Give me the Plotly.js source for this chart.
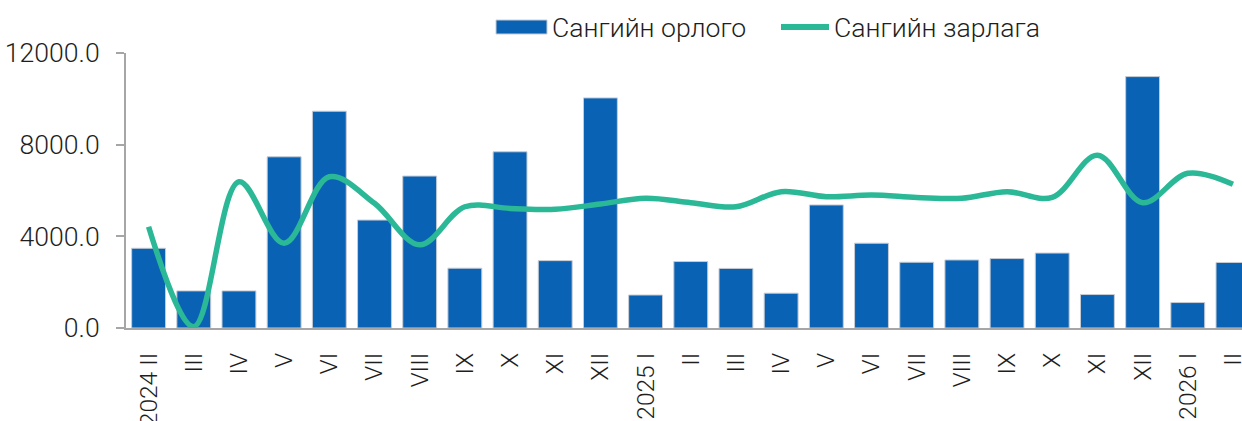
<!DOCTYPE html>
<html>
<head>
<meta charset="utf-8">
<script src="https://cdn.plot.ly/plotly-3.0.1.min.js"></script>
<style>html,body{margin:0;padding:0;background:#fff;}#chart{width:1242px;height:421px;}</style>
</head>
<body>
<div id="chart"></div>
<script>
const categories = ["2024 II","III","IV","V","VI","VII","VIII","IX","X","XI","XII",
  "2025 I","II","III","IV","V","VI","VII","VIII","IX","X","XI","XII","2026 I","II"];
const revenue = [3480,1620,1620,7470,9460,4710,6630,2610,7690,2940,10040,
  1440,2900,2600,1520,5370,3700,2870,2970,3030,3270,1460,10970,1110,2860];
const expenditure = [4420,60,6380,3700,6600,5440,3630,5290,5220,5180,5410,
  5660,5470,5290,5950,5730,5800,5700,5660,5950,5700,7540,5470,6750,6270];
const yTicks = [0,4000,8000,12000];
const yTickText = ["0.0","4000.0","8000.0","12000.0"];
const seriesNames = ["Сангийн орлого","Сангийн зарлага"];

const barColor = "#0a62b5";
const lineColor = "#2bb897";
const idx = categories.map((_, i) => i);
const baseFont = {family: "Roboto, sans-serif", color: "#1e1e1e", weight: 300};
const yFont = Object.assign({}, baseFont, {size: 26.6});
const xFont = Object.assign({}, baseFont, {size: 24.5});
const legFont = Object.assign({}, baseFont, {size: 26.6});

const traces = [
  {type: "bar", x: idx, y: revenue, name: seriesNames[0], showlegend: false,
   marker: {color: barColor, line: {color: "#c8ccd2", width: 1}}},
  {type: "scatter", mode: "lines", x: idx, y: expenditure, name: seriesNames[1], showlegend: false,
   line: {color: lineColor, width: 5.5, shape: "spline", smoothing: 1}}
];

// legend drawn in paper coordinates derived from pixel positions
const L = 126, PW = 1116, B = 328, PH = 275;
const px = v => (v - L) / PW;
const py = v => (B - v) / PH;

const layout = {
  width: 1242, height: 421,
  margin: {l: 126, r: 0, t: 53, b: 93},
  paper_bgcolor: "#fff", plot_bgcolor: "#fff",
  font: baseFont,
  bargap: 0.25,
  showlegend: false,
  shapes: [
    {type: "rect", xref: "paper", yref: "paper", x0: px(496), x1: px(547), y0: py(34), y1: py(20),
     fillcolor: barColor, line: {color: "#c8ccd2", width: 1}},
    {type: "line", xref: "paper", yref: "paper", x0: px(781), x1: px(829), y0: py(27), y1: py(27),
     line: {color: lineColor, width: 6}}
  ],
  annotations: [
    {xref: "paper", yref: "paper", x: px(550), y: py(27), xanchor: "left", yanchor: "middle",
     text: seriesNames[0], showarrow: false, font: legFont},
    {xref: "paper", yref: "paper", x: px(832), y: py(27), xanchor: "left", yanchor: "middle",
     text: seriesNames[1], showarrow: false, font: legFont}
  ],
  xaxis: {range: [-0.5, 24.2], tickmode: "array", tickvals: idx, ticktext: categories,
          tickangle: -90, showgrid: false, zeroline: false, showline: true,
          linecolor: "#a6a6a6", linewidth: 2, ticks: "", ticklabelstandoff: 13,
          ticklabeloverflow: "allow", tickfont: xFont, fixedrange: true},
  yaxis: {range: [0, 12000], tickmode: "array", tickvals: yTicks, ticktext: yTickText,
          showgrid: false, zeroline: false, showline: true, linecolor: "#a6a6a6",
          linewidth: 2, ticks: "outside", ticklen: 8, tickcolor: "#a6a6a6", tickwidth: 2,
          ticklabelstandoff: 11, tickfont: yFont, fixedrange: true}
};

Plotly.newPlot("chart", traces, layout, {displayModeBar: false, staticPlot: true});
</script>
</body>
</html>
